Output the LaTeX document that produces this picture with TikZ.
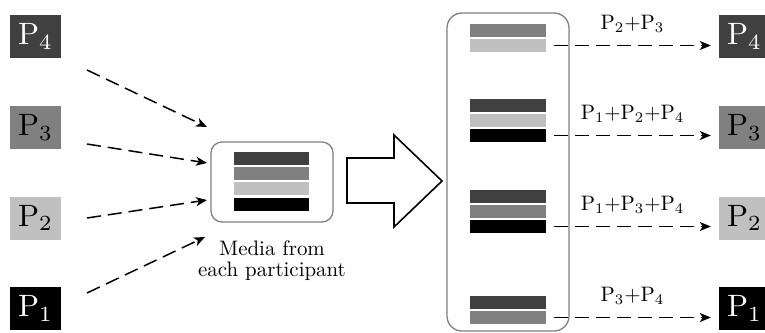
\documentclass[tikz,border=0pt]{standalone}
\usetikzlibrary{arrows.meta}
\definecolor{cdark}{HTML}{404040}
\definecolor{cmid}{HTML}{808080}
\definecolor{clight}{HTML}{C0C0C0}
\newcommand{\bigP}[1]{\scalebox{3.1}{$\mathrm{P}_{#1}$}}
\newcommand{\edgetxt}[1]{\scalebox{2.1}{$#1$}}
\tikzset{
  pbox/.style={rectangle, inner sep=0pt, minimum width=51bp, minimum height=43bp},
  bar/.style={rectangle, inner sep=0pt, minimum width=76bp, minimum height=13bp},
  frame/.style={draw=cmid, line width=1.3bp, rectangle, inner sep=0pt},
  darr/.style={line width=1.5bp, dash pattern=on 14bp off 7bp,
    -{Stealth[length=11bp,width=9bp,inset=3bp]}},
  elabel/.style={anchor=base, inner sep=0pt},
  bigarrow/.style={draw=black, fill=white, line width=1.6bp, line join=miter},
}
\begin{document}
\begin{tikzpicture}[x=1bp,y=-1bp]
\useasboundingbox (0,0) rectangle (765,332);
\clip (0,0) rectangle (765,332);

% left participants
\node[pbox, fill=cdark, text=white] (l4) at (35.5,36.5) {\bigP{4}};
\node[pbox, fill=cmid, text=black] (l3) at (35.5,127.5) {\bigP{3}};
\node[pbox, fill=clight, text=black] (l2) at (35.5,218) {\bigP{2}};
\node[pbox, fill=black, text=white] (l1) at (35.5,308.5) {\bigP{1}};

% media box
\node[frame, rounded corners=11bp, minimum width=122bp, minimum height=80bp] (media) at (272,182) {};
\node[bar, minimum width=75bp, fill=cdark] (m4) at (271.5,158.5) {};
\node[bar, minimum width=75bp, fill=cmid] (m3) at (271.5,173.5) {};
\node[bar, minimum width=75bp, fill=clight] (m2) at (271.5,188.5) {};
\node[bar, minimum width=75bp, fill=black] (m1) at (271.5,204) {};
\node[anchor=north, inner sep=0pt] (mlabel) at (272,241)
  {\scalebox{2.1}{\def\arraystretch{0.806}\begin{tabular}{@{}c@{}}Media from\\each participant\end{tabular}}};

% incoming arrows
\coordinate (s4) at (87,70);  \coordinate (e4) at (207,127);
\coordinate (s3) at (87,144); \coordinate (e3) at (207,163);
\coordinate (s2) at (87,218); \coordinate (e2) at (207,200);
\coordinate (s1) at (87,293); \coordinate (e1) at (205,237);
\draw[darr] (s4) -- (e4);
\draw[darr] (s3) -- (e3);
\draw[darr] (s2) -- (e2);
\draw[darr] (s1) -- (e1);

% big arrow
\draw[bigarrow] (347,158) -- (394,158) -- (394,135) -- (442,181) -- (394,227) -- (394,203) -- (347,203) -- cycle;

% right group box
\node[frame, rounded corners=15bp, minimum width=122bp, minimum height=318bp] (group) at (508,172) {};
\node[bar, fill=cmid] (a3) at (508,30.5) {};
\node[bar, fill=clight] (a2) at (508,45.5) {};
\node[bar, fill=cdark] (b4) at (508,105.5) {};
\node[bar, fill=clight] (b2) at (508,120.5) {};
\node[bar, fill=black] (b1) at (508,135.5) {};
\node[bar, fill=cdark] (c4) at (508,196.5) {};
\node[bar, fill=cmid] (c3) at (508,211.5) {};
\node[bar, fill=black] (c1) at (508,226.5) {};
\node[bar, fill=cdark] (d4) at (508,302.5) {};
\node[bar, fill=cmid] (d3) at (508,317.5) {};

% right participants
\node[pbox, fill=cdark, text=white] (r4) at (744.5,36.5) {\bigP{4}};
\node[pbox, fill=cmid, text=black] (r3) at (744.5,127.5) {\bigP{3}};
\node[pbox, fill=clight, text=black] (r2) at (744.5,218) {\bigP{2}};
\node[pbox, fill=black, text=white] (r1) at (744.5,308.5) {\bigP{1}};

% outgoing arrows
\draw[darr] ([xshift=8bp]a2.east) -- ([xshift=-8bp]a2.east -| r4.west)
  node[elabel, midway, yshift=16bp] {\edgetxt{\mathrm{P}_2{+}\mathrm{P}_3}};
\draw[darr] ([xshift=8bp]b1.east) -- ([xshift=-8bp]b1.east -| r3.west)
  node[elabel, midway, yshift=16bp] {\edgetxt{\mathrm{P}_1{+}\mathrm{P}_2{+}\mathrm{P}_4}};
\draw[darr] ([xshift=8bp]c1.east) -- ([xshift=-8bp]c1.east -| r2.west)
  node[elabel, midway, yshift=16bp] {\edgetxt{\mathrm{P}_1{+}\mathrm{P}_3{+}\mathrm{P}_4}};
\draw[darr] ([xshift=8bp]d3.east) -- ([xshift=-8bp]d3.east -| r1.west)
  node[elabel, midway, yshift=16bp] {\edgetxt{\mathrm{P}_3{+}\mathrm{P}_4}};
\end{tikzpicture}
\end{document}
